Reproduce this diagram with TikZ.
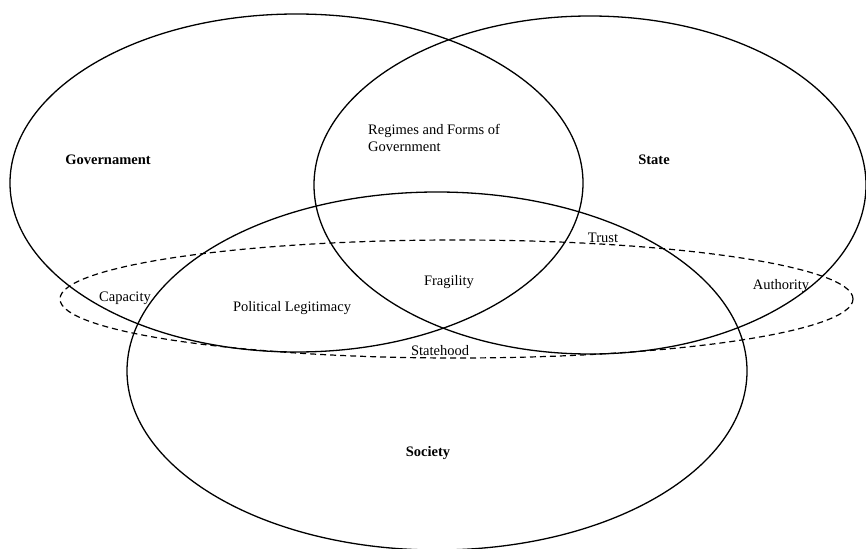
\documentclass[tikz,border=0pt]{standalone}
\usepackage{fontspec}
\setmainfont{Liberation Serif}
\usetikzlibrary{shapes.geometric}
\begin{document}
\begin{tikzpicture}[x=1pt,y=-1pt,
  circ/.style={draw=black,line width=1.3pt,ellipse,inner sep=0pt,outer sep=0pt},
  dcirc/.style={draw=black,line width=1.2pt,ellipse,dashed,dash pattern=on 6pt off 4pt,inner sep=0pt,outer sep=0pt},
  lbl/.style={inner sep=0pt,font=\fontsize{14.5}{17}\selectfont},
  blbl/.style={lbl,font=\fontsize{14.5}{17}\selectfont\bfseries}]
\useasboundingbox (0,0) rectangle (866,548);
\node[circ,minimum width=573pt,minimum height=338pt] (gov) at (296.5,183) {};
\node[circ,minimum width=552pt,minimum height=338pt] (state) at (590,185) {};
\node[circ,minimum width=620pt,minimum height=358pt] (soc) at (437,371) {};
\node[dcirc,minimum width=793pt,minimum height=118pt] (dash) at (456.5,299) {};
\node[blbl] (tgov) at (108,160) {Governament};
\node[blbl] (tstate) at (654,160) {State};
\node[blbl] (tsoc) at (428,453) {Society};
\node[lbl,align=left,anchor=west] (treg) at (368,138) {Regimes and Forms of\\Government};
\node[lbl] (ttrust) at (603,238) {Trust};
\node[lbl] (tcap) at (125,298) {Capacity};
\node[lbl] (tpol) at (292,308) {Political Legitimacy};
\node[lbl] (tfrag) at (449,282) {Fragility};
\node[lbl] (tauth) at (781,286) {Authority};
\node[lbl] (tsh) at (440,351) {Statehood};
\end{tikzpicture}
\end{document}
